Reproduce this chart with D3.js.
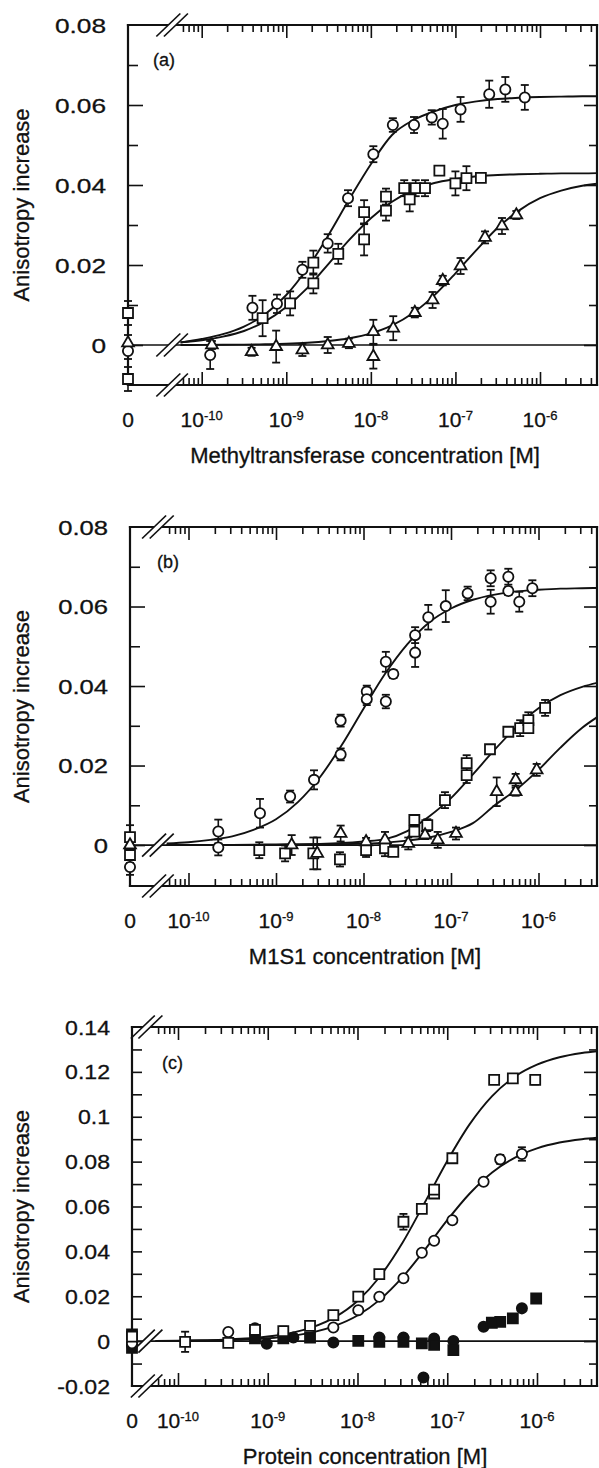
<!DOCTYPE html>
<html><head><meta charset="utf-8">
<script src="https://cdn.jsdelivr.net/npm/d3@7"></script>
<style>
html,body{margin:0;padding:0;background:#fff;}
svg{display:block;}
text{stroke:#111;stroke-width:0.3px;}
</style></head><body>
<svg id="chart" width="599" height="1468"></svg>
<script>
// ---------- shared data ----------
const xDecades = [1e-10, 1e-9, 1e-8, 1e-7, 1e-6];
const xDecadeExps = ["-10", "-9", "-8", "-7", "-6"];
const breakAt = 4.47e-11;
const fitX = [5.62e-11, 1e-10, 1.78e-10, 3.16e-10, 5.62e-10, 1e-9, 1.78e-9, 3.16e-9, 5.62e-9, 1e-8, 1.78e-8, 3.16e-8, 5.62e-8, 1e-7, 1.78e-7, 3.16e-7, 5.62e-7, 1e-6, 1.78e-6, 3.16e-6, 5.62e-6];
const abYTickValues = [0, 0.02, 0.04, 0.06, 0.08];
const abYTickLabels = ["0", "0.02", "0.04", "0.06", "0.08"];
const abYMinor = [0.01, 0.03, 0.05, 0.07];
const cYTickValues = [-0.02, 0, 0.02, 0.04, 0.06, 0.08, 0.1, 0.12, 0.14];
const cYTickLabels = ["-0.02", "0", "0.02", "0.04", "0.06", "0.08", "0.1", "0.12", "0.14"];
const cYMinor = [-0.01, 0.01, 0.03, 0.05, 0.07, 0.09, 0.11, 0.13];

// ---------- panel (a) ----------
const aCircleX = [0, 1.26e-10, 3.98e-10, 7.76e-10, 1.55e-9, 3.09e-9, 5.37e-9, 1.07e-8, 1.82e-8, 3.24e-8, 5.25e-8, 7.08e-8, 1.15e-7, 2.51e-7, 3.89e-7, 6.61e-7];
const aCircleY = [-0.0015, -0.0025, 0.0093, 0.0103, 0.0188, 0.0254, 0.0367, 0.0477, 0.0550, 0.0550, 0.0569, 0.0553, 0.0589, 0.0627, 0.0639, 0.0619];
const aCircleE = [0.002, 0.0035, 0.003, 0.0023, 0.002, 0.0023, 0.002, 0.002, 0.0017, 0.002, 0.0018, 0.0037, 0.0031, 0.0034, 0.0031, 0.0031];
const aSquareX = [0, 0, 5.25e-10, 1.11e-9, 2.09e-9, 2.09e-9, 4.12e-9, 8.32e-9, 8.32e-9, 1.51e-8, 1.51e-8, 2.48e-8, 2.88e-8, 3.39e-8, 4.37e-8, 6.46e-8, 1.0e-7, 1.35e-7, 2.0e-7];
const aSquareY = [0.008, -0.0085, 0.0067, 0.0104, 0.0206, 0.0154, 0.0228, 0.0332, 0.0264, 0.0371, 0.0336, 0.0392, 0.0364, 0.0392, 0.0392, 0.0436, 0.0404, 0.0417, 0.0418];
const aSquareE = [0.003, 0.003, 0.0045, 0.003, 0.003, 0.0025, 0.0025, 0.003, 0.004, 0.002, 0.0025, 0.002, 0.003, 0.002, 0.002, 0, 0.003, 0.003, 0.001];
const aTriangleX = [0, 1.32e-10, 3.89e-10, 7.59e-10, 1.55e-9, 3.09e-9, 5.50e-9, 1.07e-8, 1.07e-8, 1.84e-8, 3.31e-8, 5.37e-8, 7.08e-8, 1.15e-7, 2.24e-7, 3.55e-7, 5.25e-7];
const aTriangleY = [0.0005, 0.0, -0.0017, -0.0004, -0.00125, 0.0, 0.0004, 0.0033, -0.0029, 0.0042, 0.0081, 0.01125, 0.0161, 0.01975, 0.0269, 0.02975, 0.0325];
const aTriangleE = [0.002, 0.001, 0.001, 0.004, 0.0015, 0.002, 0.0012, 0.003, 0.003, 0.003, 0.0012, 0.002, 0.0012, 0.002, 0.0015, 0.002, 0.001];
const aCircleFit = [0.0006, 0.0015, 0.0027, 0.0046, 0.0077, 0.0125, 0.0192, 0.0275, 0.0366, 0.0452, 0.0525, 0.0562, 0.0584, 0.0600, 0.0609, 0.0615, 0.0618, 0.0620, 0.0621, 0.0622, 0.0622];
const aSquareFit = [0.0007, 0.0012, 0.0021, 0.0035, 0.0059, 0.0095, 0.0143, 0.0203, 0.0264, 0.0317, 0.0358, 0.0387, 0.0405, 0.0415, 0.0422, 0.0425, 0.0427, 0.0428, 0.0429, 0.0429, 0.0430];
const aTriangleFit = [0, 0.00003, 0.00006, 0.0001, 0.00018, 0.0003, 0.00055, 0.001, 0.0017, 0.0029, 0.0049, 0.008, 0.0124, 0.0179, 0.0238, 0.0293, 0.0336, 0.0367, 0.0386, 0.0398, 0.0405];

// ---------- panel (b) ----------
const bCircleX = [0, 2.19e-10, 2.19e-10, 6.56e-10, 1.45e-9, 2.72e-9, 5.48e-9, 5.48e-9, 1.09e-8, 1.09e-8, 1.80e-8, 1.80e-8, 2.19e-8, 3.89e-8, 3.89e-8, 5.50e-8, 8.71e-8, 1.55e-7, 2.84e-7, 2.84e-7, 4.52e-7, 4.52e-7, 6.03e-7, 8.51e-7];
const bCircleY = [-0.0055, 0.0034, -0.0006, 0.008, 0.0122, 0.0164, 0.0313, 0.0228, 0.0386, 0.0367, 0.0461, 0.0361, 0.043, 0.0528, 0.0484, 0.0573, 0.0601, 0.0633, 0.0671, 0.0612, 0.0675, 0.0639, 0.0612, 0.0646];
const bCircleE = [0.002, 0.003, 0.002, 0.0036, 0.0015, 0.0024, 0.0015, 0.0015, 0.0015, 0.0015, 0.0025, 0.0017, 0.001, 0.002, 0.0036, 0.0031, 0.004, 0.0017, 0.002, 0.003, 0.002, 0.001, 0.0025, 0.002];
const bSquareX = [0, 0, 6.44e-10, 1.27e-9, 2.67e-9, 5.38e-9, 1.07e-8, 1.76e-8, 2.19e-8, 3.81e-8, 3.81e-8, 5.36e-8, 8.53e-8, 1.51e-7, 1.51e-7, 2.79e-7, 4.52e-7, 6.17e-7, 7.66e-7, 7.66e-7, 1.19e-6];
const bSquareY = [0.002, -0.0025, -0.0013, -0.0021, -0.0021, -0.0036, -0.0013, -0.0008, -0.0017, 0.0063, 0.0034, 0.005, 0.0113, 0.0206, 0.0176, 0.0241, 0.0285, 0.0294, 0.0314, 0.0294, 0.0345];
const bSquareE = [0.003, 0.002, 0.002, 0.002, 0.004, 0.0018, 0.0017, 0.002, 0.001, 0.001, 0.001, 0.0015, 0.002, 0.002, 0.002, 0.001, 0.001, 0.002, 0.002, 0.001, 0.002];
const bTriangleX = [0, 1.51e-9, 2.96e-9, 5.48e-9, 1.07e-8, 1.76e-8, 3.25e-8, 5.05e-8, 7.05e-8, 1.14e-7, 3.33e-7, 5.48e-7, 5.48e-7, 9.53e-7];
const bTriangleY = [0.0, 0.0, -0.0021, 0.0029, 0.0008, 0.0013, 0.0004, 0.0025, 0.0013, 0.0029, 0.0134, 0.0164, 0.0134, 0.0189];
const bTriangleE = [0.002, 0.0025, 0.004, 0.002, 0.001, 0.002, 0.0015, 0.001, 0.002, 0.0015, 0.0036, 0.0015, 0.001, 0.0015];
const bCircleFit = [0.0004, 0.0007, 0.0013, 0.0022, 0.0039, 0.0065, 0.0108, 0.017, 0.0251, 0.0343, 0.0432, 0.0505, 0.056, 0.0595, 0.0617, 0.063, 0.0638, 0.0642, 0.0645, 0.0646, 0.0647];
const bSquareFit = [0, 0.00002, 0.00003, 0.00005, 0.0001, 0.00017, 0.0002, 0.0003, 0.0005, 0.0009, 0.0015, 0.0035, 0.0072, 0.0118, 0.0178, 0.024, 0.0297, 0.0344, 0.0377, 0.0398, 0.0412];
const bTriangleFit = [0, 0, 0, 0, 0.00001, 0.00002, 0.00004, 0.0001, 0.0002, 0.00035, 0.0006, 0.0011, 0.0019, 0.0033, 0.0055, 0.01, 0.014, 0.0189, 0.0245, 0.0295, 0.0333];

// ---------- panel (c) ----------
const cSquareX = [0, 1.20e-10, 3.63e-10, 7.21e-10, 1.49e-9, 2.96e-9, 5.38e-9, 1.02e-8, 1.75e-8, 3.25e-8, 5.21e-8, 7.14e-8, 7.14e-8, 1.14e-7, 3.33e-7, 5.38e-7, 9.55e-7];
const cSquareY = [0.002, -0.0003, -0.0008, 0.005, 0.0045, 0.0068, 0.0116, 0.0198, 0.0299, 0.0532, 0.0589, 0.0658, 0.0675, 0.0815, 0.1164, 0.1171, 0.1164];
const cSquareE = [0.002, 0.0045, 0.001, 0.002, 0.002, 0, 0.001, 0, 0, 0.0035, 0, 0.001, 0, 0, 0, 0.002, 0.002];
const cCircleX = [0, 3.63e-10, 7.21e-10, 5.38e-9, 1.02e-8, 1.75e-8, 3.25e-8, 5.21e-8, 7.14e-8, 1.14e-7, 2.54e-7, 3.89e-7, 6.79e-7];
const cCircleY = [-0.001, 0.0041, 0.0057, 0.0061, 0.0138, 0.0198, 0.028, 0.0394, 0.0447, 0.0539, 0.071, 0.081, 0.0834];
const cCircleE = [0.002, 0.001, 0.001, 0, 0, 0, 0, 0, 0.001, 0, 0, 0.002, 0.003];
const cFilledCircleX = [0, 9.75e-10, 1.93e-9, 5.38e-9, 1.75e-8, 3.25e-8, 5.43e-8, 7.14e-8, 1.17e-7, 2.54e-7, 6.79e-7];
const cFilledCircleY = [-0.002, -0.0012, 0.0016, -0.0006, 0.0016, 0.0016, -0.0162, 0.0012, 0.0001, 0.0064, 0.0146];
const cFilledSquareX = [0, 0, 7.21e-10, 1.49e-9, 2.96e-9, 1.02e-8, 1.75e-8, 3.25e-8, 5.21e-8, 7.14e-8, 1.17e-7, 3.14e-7, 3.89e-7, 5.38e-7, 9.79e-7];
const cFilledSquareY = [0.003, -0.003, 0.0012, 0.0012, 0.0016, 0.0001, -0.0003, -0.0003, -0.001, -0.0017, -0.004, 0.0082, 0.0086, 0.0101, 0.019];
const cSquareFit = [0.00012, 0.00021, 0.00037, 0.00065, 0.00116, 0.00204, 0.00359, 0.00624, 0.0107, 0.0179, 0.0288, 0.0437, 0.0618, 0.0803, 0.0967, 0.1092, 0.1178, 0.1232, 0.1265, 0.1284, 0.1295];
const cCircleFit = [0.00007, 0.00013, 0.00023, 0.00041, 0.00072, 0.00128, 0.00225, 0.0039, 0.0068, 0.0114, 0.0185, 0.0284, 0.0407, 0.0539, 0.0658, 0.0752, 0.0817, 0.0859, 0.0885, 0.090, 0.0909];

// ---------- drawing ----------
const INK = '#111';
const FONT = '"Liberation Sans", Arial, Helvetica, sans-serif';
const svg = d3.select('#chart');

const panels = [
  { key: 'a', left: 128, right: 597, top: 25, bottom: 385, x10: 201.7, x6: 540, yDom: [-0.01, 0.08],
    yVals: abYTickValues, yLabs: abYTickLabels, yMinor: abYMinor, majLen: 15, minLen: 10, yStretch: 1.25,
    letter: '(a)', letterDx: 25, letterDy: 41,
    title: 'Methyltransferase concentration [M]',
    fits: [aCircleFit, aSquareFit, aTriangleFit],
    series: [
      { x: aCircleX, y: aCircleY, e: aCircleE, shape: 'circle', filled: false },
      { x: aSquareX, y: aSquareY, e: aSquareE, shape: 'square', filled: false },
      { x: aTriangleX, y: aTriangleY, e: aTriangleE, shape: 'triangle', filled: false }
    ] },
  { key: 'b', left: 130, right: 597, top: 527, bottom: 886, x10: 188.5, x6: 538.5, yDom: [-0.0103, 0.08],
    yVals: abYTickValues, yLabs: abYTickLabels, yMinor: abYMinor, majLen: 15, minLen: 10, yStretch: 1.22,
    letter: '(b)', letterDx: 27, letterDy: 41,
    title: 'M1S1 concentration [M]',
    fits: [bCircleFit, bSquareFit, bTriangleFit],
    series: [
      { x: bCircleX, y: bCircleY, e: bCircleE, shape: 'circle', filled: false },
      { x: bSquareX, y: bSquareY, e: bSquareE, shape: 'square', filled: false },
      { x: bTriangleX, y: bTriangleY, e: bTriangleE, shape: 'triangle', filled: false }
    ] },
  { key: 'c', left: 132, right: 597, top: 1027, bottom: 1386, x10: 178, x6: 537, yDom: [-0.02, 0.14],
    yVals: cYTickValues, yLabs: cYTickLabels, yMinor: cYMinor, majLen: 10, minLen: 10, yStretch: 1.1,
    letter: '(c)', letterDx: 30, letterDy: 42,
    title: 'Protein concentration [M]',
    fits: [cSquareFit, cCircleFit],
    series: [
      { x: cFilledCircleX, y: cFilledCircleY, e: null, shape: 'circle', filled: true },
      { x: cFilledSquareX, y: cFilledSquareY, e: null, shape: 'square', filled: true },
      { x: cCircleX, y: cCircleY, e: cCircleE, shape: 'circle', filled: false },
      { x: cSquareX, y: cSquareY, e: cSquareE, shape: 'square', filled: false }
    ] }
];

const symGen = {
  circle: d3.symbol(d3.symbolCircle, 82),
  square: d3.symbol(d3.symbolSquare, 100),
  triangle: d3.symbol(d3.symbolTriangle, 60)
};

function drawPanel(p) {
  const g = svg.append('g').attr('color', INK);
  const x = d3.scaleLog().domain([1e-10, 1e-6]).range([p.x10, p.x6]);
  const y = d3.scaleLinear().domain(p.yDom).range([p.bottom, p.top]);
  const px = c => (c === 0 ? p.left : x(c));
  const xb = x(breakAt);

  const clipId = 'clip-' + p.key;
  svg.append('clipPath').attr('id', clipId).append('rect')
    .attr('x', xb).attr('y', p.top).attr('width', p.right - xb).attr('height', p.bottom - p.top);

  // zero line
  g.append('line').attr('x1', p.left).attr('x2', p.right).attr('y1', y(0)).attr('y2', y(0))
    .attr('stroke', INK).attr('stroke-width', 1.7);

  // fitted curves
  const line = d3.line().x(d => x(d[0])).y(d => y(d[1])).curve(d3.curveMonotoneX);
  p.fits.forEach(f => {
    g.append('path').attr('d', line(fitX.map((c, i) => [c, f[i]])))
      .attr('fill', 'none').attr('stroke', INK).attr('stroke-width', 1.9)
      .attr('clip-path', `url(#${clipId})`);
  });

  // x ticks
  const minorX = [];
  for (let e = -11; e <= -6; e++) {
    for (let m = 2; m <= 9; m++) {
      const v = m * Math.pow(10, e);
      const xx = x(v);
      if (xx > xb + 5 && xx < p.right - 2) minorX.push(v);
    }
  }
  const noDom = s => s.select('.domain').remove();
  const styleTicks = s => s.selectAll('line').attr('stroke-width', 1.6);
  g.append('g').attr('transform', `translate(0,${p.bottom})`)
    .call(d3.axisBottom(x).tickValues(minorX).tickSize(-7).tickFormat('')).call(noDom).call(styleTicks);
  g.append('g').attr('transform', `translate(0,${p.bottom})`)
    .call(d3.axisBottom(x).tickValues(xDecades).tickSize(-13).tickFormat('')).call(noDom).call(styleTicks);
  g.append('g').attr('transform', `translate(0,${p.top})`)
    .call(d3.axisTop(x).tickValues(minorX).tickSize(-7).tickFormat('')).call(noDom).call(styleTicks);
  g.append('g').attr('transform', `translate(0,${p.top})`)
    .call(d3.axisTop(x).tickValues(xDecades).tickSize(-13).tickFormat('')).call(noDom).call(styleTicks);

  // y ticks
  const inY = p.yVals.filter(v => v > p.yDom[0] + 1e-9 && v < p.yDom[1] - 1e-9);
  g.append('g').attr('transform', `translate(${p.left},0)`)
    .call(d3.axisLeft(y).tickValues(inY).tickSize(-p.majLen).tickFormat('')).call(noDom).call(styleTicks);
  g.append('g').attr('transform', `translate(${p.left},0)`)
    .call(d3.axisLeft(y).tickValues(p.yMinor).tickSize(-p.minLen).tickFormat('')).call(noDom).call(styleTicks);
  g.append('g').attr('transform', `translate(${p.right},0)`)
    .call(d3.axisRight(y).tickValues(inY).tickSize(-13).tickFormat('')).call(noDom).call(styleTicks);
  g.append('g').attr('transform', `translate(${p.right},0)`)
    .call(d3.axisRight(y).tickValues(p.yMinor).tickSize(-8).tickFormat('')).call(noDom).call(styleTicks);

  // frame (top, bottom, right)
  const frame = (x1, y1, x2, y2) => g.append('line').attr('x1', x1).attr('y1', y1).attr('x2', x2).attr('y2', y2)
    .attr('stroke', INK).attr('stroke-width', 2.2).attr('stroke-linecap', 'square');
  frame(p.left, p.top, p.right, p.top);
  frame(p.left, p.bottom, p.right, p.bottom);
  frame(p.right, p.top, p.right, p.bottom);

  // axis breaks
  function brk(cx, cy) {
    const dx = 12, dy = 11.5, off = 3.8;
    g.append('path')
      .attr('d', `M${cx - off - dx},${cy + dy}L${cx - off + dx},${cy - dy}L${cx + off + dx},${cy - dy}L${cx + off - dx},${cy + dy}Z`)
      .attr('fill', '#fff');
    [-off, off].forEach(o => g.append('line')
      .attr('x1', cx + o - dx).attr('y1', cy + dy).attr('x2', cx + o + dx).attr('y2', cy - dy)
      .attr('stroke', INK).attr('stroke-width', 1.7));
  }
  brk(xb, p.top);
  brk(xb, p.bottom);
  brk(xb, y(0));

  frame(p.left, p.top, p.left, p.bottom);

  // error bars + symbols
  p.series.forEach(s => {
    if (s.e) {
      s.x.forEach((c, i) => {
        const e = s.e[i];
        if (!e) return;
        const cx = px(c), y1 = y(s.y[i] - e), y2 = y(s.y[i] + e);
        g.append('line').attr('x1', cx).attr('x2', cx).attr('y1', y1).attr('y2', y2)
          .attr('stroke', INK).attr('stroke-width', 1.6);
        [y1, y2].forEach(yy => g.append('line').attr('x1', cx - 4).attr('x2', cx + 4).attr('y1', yy).attr('y2', yy)
          .attr('stroke', INK).attr('stroke-width', 1.8));
      });
    }
  });
  p.series.forEach(s => {
    g.append('g').selectAll('path').data(s.x.map((c, i) => [c, s.y[i]])).join('path')
      .attr('transform', d => `translate(${px(d[0])},${y(d[1])})`)
      .attr('d', symGen[s.shape]())
      .attr('fill', s.filled ? INK : '#fff')
      .attr('stroke', INK).attr('stroke-width', 1.8);
  });

  // y tick labels
  g.append('g').selectAll('text').data(p.yVals).join('text')
    .attr('transform', d => `translate(${p.left - 22},${y(d) + 7.5}) scale(${p.yStretch},1)`)
    .attr('text-anchor', 'end').attr('fill', INK)
    .style('font-family', FONT).style('font-size', '21px')
    .text((d, i) => p.yLabs[i]);

  // x tick labels
  g.append('text').attr('x', p.left).attr('y', p.bottom + 42).attr('text-anchor', 'middle')
    .attr('fill', INK).style('font-family', FONT).style('font-size', '21px').text('0');
  xDecades.forEach((d, i) => {
    const t = g.append('text').attr('x', x(d)).attr('y', p.bottom + 42).attr('text-anchor', 'middle')
      .attr('fill', INK).style('font-family', FONT).style('font-size', '21px');
    t.append('tspan').text('10');
    t.append('tspan').attr('dy', -7).style('font-size', '13px').text(xDecadeExps[i]);
  });

  // x title
  g.append('text').attr('x', 365).attr('y', p.bottom + 78).attr('text-anchor', 'middle')
    .attr('fill', INK).style('font-family', FONT).style('font-size', '22px').text(p.title);

  // y title
  g.append('text').attr('transform', `translate(29,${(p.top + p.bottom) / 2}) rotate(-90)`)
    .attr('text-anchor', 'middle').attr('fill', INK)
    .style('font-family', FONT).style('font-size', '22px').text('Anisotropy increase');

  // panel letter
  g.append('text').attr('x', p.left + p.letterDx).attr('y', p.top + p.letterDy)
    .attr('fill', INK).style('font-family', FONT).style('font-size', '18px').text(p.letter);
}

panels.forEach(drawPanel);
</script></body></html>
